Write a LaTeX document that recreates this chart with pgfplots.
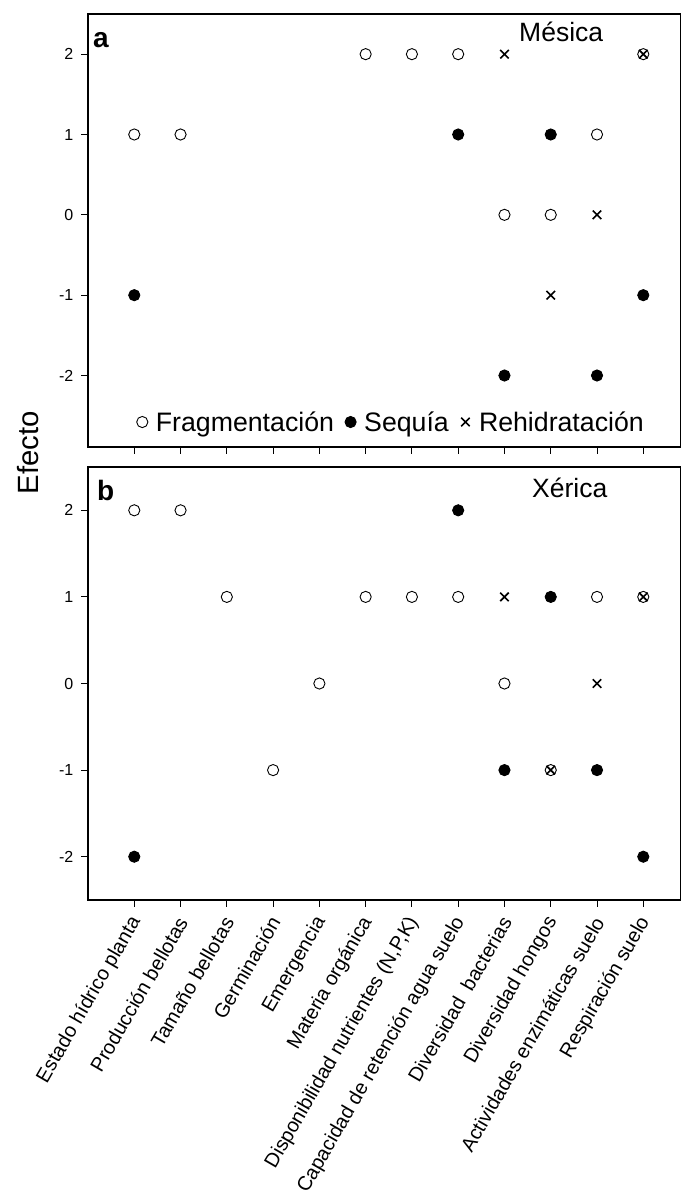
\documentclass[border=0pt]{standalone}
\usepackage{fontspec}
\setmainfont{Liberation Sans}
\usepackage{pgfplots}
\pgfplotsset{compat=1.18}

\pgfplotsset{
  myax/.style={
    scale only axis, width=592.3pt, height=433pt,
    xmin=-1, xmax=11.8,
    xtick={0,...,11}, ytick={-2,-1,0,1,2},
    tick align=outside, xtick pos=left, ytick pos=left,
    major tick length=6.5pt,
    every tick/.style={black, line width=0.9pt},
    axis line style={black, line width=1.1pt},
    /pgf/number format/assume math mode=true,
    yticklabel style={font=\fontsize{16}{18}\selectfont, inner sep=0pt, xshift=-8pt},
    xticklabel style={font=\fontsize{20}{24}\selectfont, xshift=2pt, yshift=-12pt, rotate=60, anchor=east, inner sep=0pt},
    clip=false,
  },
  frag/.style={only marks, mark=*, mark size=5.6pt, mark options={fill=white, draw=black, line width=0.9pt}},
  seq/.style={only marks, mark=*, mark size=5.6pt, mark options={fill=black, draw=black, line width=0.9pt}},
  reh/.style={only marks, mark=x, mark size=6pt, mark options={draw=black, line width=1.6pt}},
}

\begin{document}
\begin{tikzpicture}
\path[use as bounding box] (0pt,0pt) rectangle (681pt,-1196pt);

% Panel a
\begin{axis}[myax, at={(88pt,-14pt)}, anchor=north west,
  ymin=-2.89, ymax=2.5, xticklabels={},
  legend columns=3,
  legend image code/.code={\path[draw=none, fill=none] (-5.6pt,-5.6pt) rectangle (5.6pt,5.6pt); \draw[#1] plot coordinates {(0pt,0pt)};},
  legend style={at={(0.0819,0.0577)}, anchor=west, draw=none, fill=none, inner sep=0pt,
    font=\fontsize{26.7}{30}\selectfont,
    nodes={inner sep=0pt},
    /tikz/every odd column/.append style={column sep=8pt},
    /tikz/every even column/.append style={column sep=11pt}},
]
\addplot[frag] coordinates {(0,1) (1,1) (5,2) (6,2) (7,2) (8,0) (9,0) (10,1) (11,2)};
\addlegendentry{Fragmentación}
\addplot[seq] coordinates {(0,-1) (7,1) (8,-2) (9,1) (10,-2) (11,-1)};
\addlegendentry{Sequía\hspace{11pt}}
\addplot[reh] coordinates {(8,2) (9,-1) (10,0) (11,2)};
\addlegendentry{Rehidratación}
\end{axis}

% Panel b
\begin{axis}[myax, at={(88pt,-467pt)}, anchor=north west,
  ymin=-2.5, ymax=2.5,
  xticklabels={Estado hídrico planta, Producción bellotas, Tamaño bellotas, Germinación, Emergencia, Materia orgánica, {Disponibilidad nutrientes (N,P,K)}, Capacidad de retención agua suelo, Diversidad\ \ bacterias, Diversidad hongos, Actividades enzimáticas suelo, Respiración suelo},
]
\addplot[frag] coordinates {(0,2) (1,2) (2,1) (3,-1) (4,0) (5,1) (6,1) (7,1) (8,0) (9,-1) (10,1) (11,1)};
\addplot[seq] coordinates {(0,-2) (7,2) (8,-1) (9,1) (10,-1) (11,-2)};
\addplot[reh] coordinates {(8,1) (9,-1) (10,0) (11,1)};
\end{axis}

% texts
\node[anchor=base west, inner sep=0pt, font=\fontsize{26.5}{30}\selectfont] at (519pt,-42pt) {Mésica};
\node[anchor=base west, inner sep=0pt, font=\fontsize{26.5}{30}\selectfont] at (532pt,-497pt) {Xérica};
\node[anchor=base west, inner sep=0pt, font=\fontsize{28}{30}\selectfont\bfseries] at (93pt,-48pt) {a};
\node[anchor=base west, inner sep=0pt, font=\fontsize{28}{30}\selectfont\bfseries] at (97pt,-500pt) {b};
\node[rotate=90, anchor=base, inner sep=0pt, font=\fontsize{29.3}{32}\selectfont] at (38pt,-453pt) {Efecto};
\end{tikzpicture}
\end{document}
